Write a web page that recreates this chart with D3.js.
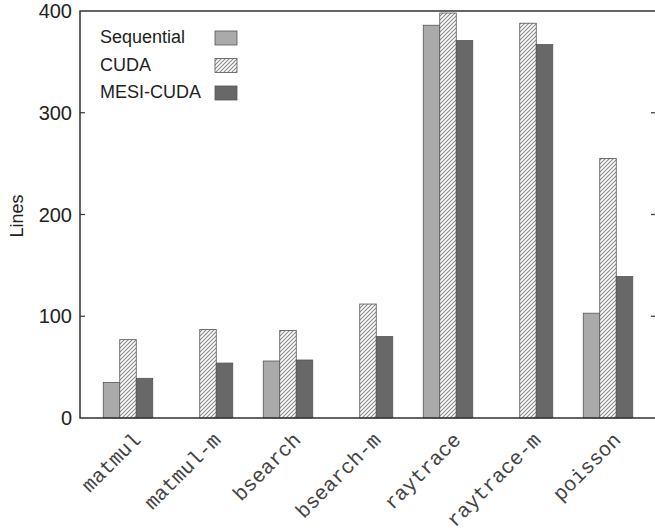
<!DOCTYPE html>
<html>
<head>
<meta charset="utf-8">
<script src="https://cdn.jsdelivr.net/npm/d3@7"></script>
<style>
  body { margin: 0; background: #fff; }
</style>
</head>
<body>
<div id="chart"></div>
<script>
// data
const categories = ["matmul", "matmul-m", "bsearch", "bsearch-m", "raytrace", "raytrace-m", "poisson"];
const series = ["Sequential", "CUDA", "MESI-CUDA"];
const sequential = [35, null, 56, null, 386, null, 103];
const cuda = [77, 87, 86, 112, 398, 388, 255];
const mesiCuda = [39, 54, 57, 80, 371, 367, 139];
const yTicks = [0, 100, 200, 300, 400];

const values = [sequential, cuda, mesiCuda];
const fills = ["#aaaaaa", "url(#hatch)", "#686868"];

const W = 655, H = 531;
const svg = d3.select("#chart").append("svg")
  .attr("width", W).attr("height", H);

// hatch pattern for CUDA
const defs = svg.append("defs");
const pat = defs.append("pattern")
  .attr("id", "hatch")
  .attr("patternUnits", "userSpaceOnUse")
  .attr("width", 4).attr("height", 4);
pat.append("rect").attr("width", 4).attr("height", 4).attr("fill", "#fff");
pat.append("path")
  .attr("d", "M-1,1 l2,-2 M0,4 l4,-4 M3,5 l2,-2")
  .attr("stroke", "#888").attr("stroke-width", 1.1);

// plot area edges
const plot = {left: 80, right: 656, top: 11, bottom: 418};

// x: category index, gnuplot-style range
const x = d3.scaleLinear().domain([-0.6, 6.6]).range([plot.left, plot.right]);
const y = d3.scaleLinear().domain([0, 400]).range([plot.bottom, plot.top]);
const barW = 16.5;

// bars
values.forEach(function (vals, s) {
  svg.append("g")
    .selectAll("rect")
    .data(vals.map((v, i) => ({ v: v, i: i })).filter(d => d.v !== null))
    .join("rect")
    .attr("x", d => x(d.i) + (s - 1.5) * barW)
    .attr("y", d => y(d.v))
    .attr("width", barW)
    .attr("height", d => y(0) - y(d.v))
    .attr("fill", fills[s])
    .attr("stroke", "#555")
    .attr("stroke-width", 0.8);
});

// frame
svg.append("rect")
  .attr("x", plot.left).attr("y", plot.top)
  .attr("width", plot.right - plot.left).attr("height", plot.bottom - plot.top)
  .attr("fill", "none").attr("stroke", "#333").attr("stroke-width", 1.5);

// y axis ticks (inward, both sides)
const yAxis = svg.append("g");
yAxis.selectAll("line.l")
  .data(yTicks.slice(1, -1))
  .join("line")
  .attr("class", "l")
  .attr("x1", plot.left).attr("x2", plot.left + 5)
  .attr("y1", d => y(d)).attr("y2", d => y(d))
  .attr("stroke", "#333").attr("stroke-width", 1.2);
yAxis.selectAll("line.r")
  .data(yTicks.slice(1, -1))
  .join("line")
  .attr("class", "r")
  .attr("x1", plot.right - 5).attr("x2", plot.right)
  .attr("y1", d => y(d)).attr("y2", d => y(d))
  .attr("stroke", "#333").attr("stroke-width", 1.2);
yAxis.selectAll("text")
  .data(yTicks)
  .join("text")
  .attr("x", plot.left - 8)
  .attr("y", d => y(d))
  .attr("dy", "0.35em")
  .attr("text-anchor", "end")
  .attr("font-family", "Liberation Sans, Arial, sans-serif")
  .attr("font-size", 20)
  .attr("fill", "#222")
  .text(d => d);

// y label
svg.append("text")
  .attr("transform", `translate(23, 216) rotate(-90)`)
  .attr("text-anchor", "middle")
  .attr("font-family", "Liberation Sans, Arial, sans-serif")
  .attr("font-size", 18)
  .attr("fill", "#222")
  .text("Lines");

// x labels, rotated
svg.append("g")
  .selectAll("text")
  .data(categories)
  .join("text")
  .attr("transform", (d, i) => `translate(${x(i) + 14}, 441) rotate(-45)`)
  .attr("text-anchor", "end")
  .attr("font-family", "Liberation Mono, Courier New, monospace")
  .attr("font-size", 20.5)
  .attr("fill", "#444")
  .text(d => d);

// legend
const legend = svg.append("g");
series.forEach(function (name, s) {
  const ly = 43 + s * 27.5;
  legend.append("text")
    .attr("x", 100).attr("y", ly)
    .attr("font-family", "Liberation Sans, Arial, sans-serif")
    .attr("font-size", 18)
    .attr("fill", "#222")
    .text(name);
  legend.append("rect")
    .attr("x", 215).attr("y", ly - 12)
    .attr("width", 22).attr("height", 14)
    .attr("fill", fills[s])
    .attr("stroke", "#555").attr("stroke-width", 0.8);
});
</script>
</body>
</html>
